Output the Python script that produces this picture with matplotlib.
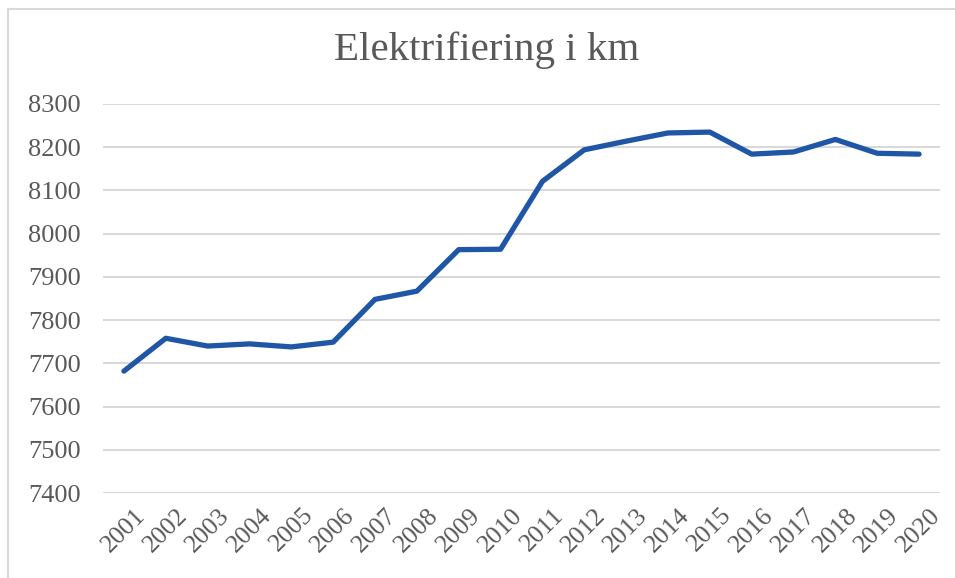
import matplotlib.pyplot as plt
from matplotlib.lines import Line2D

# data
years = [str(y) for y in range(2001, 2021)]
km = [7682, 7758, 7740, 7745, 7738, 7749, 7848, 7867, 7963, 7964,
      8121, 8194, 8214, 8233, 8235, 8184, 8189, 8218, 8186, 8184]
yticks = [7400, 7500, 7600, 7700, 7800, 7900, 8000, 8100, 8200, 8300]

W, H = 955, 578
fig = plt.figure(figsize=(W / 100, H / 100), dpi=100)
plt.rcParams['font.family'] = ['Liberation Serif', 'DejaVu Serif']

text_col = '#595959'
grid_col = '#d9d9d9'

# plot area in pixels: x 103..940, y 104..493
ax = fig.add_axes([103 / W, 1 - 493 / H, (940 - 103) / W, (493 - 104) / H])

x = list(range(len(years)))
ax.plot(x, km, color='#1f56a6', linewidth=3.8, solid_capstyle='round',
        solid_joinstyle='round', zorder=3)

ax.set_xlim(-0.5, len(years) - 0.5)
ax.set_ylim(7400, 8300)
ax.set_yticks(yticks)
ax.set_yticklabels([str(v) for v in yticks], fontsize=19, color=text_col)
ax.set_xticks(x)
ax.set_xticklabels(years, rotation=45, ha='center', va='top',
                   fontsize=18.5, color=text_col)

ax.grid(axis='y', color=grid_col, linewidth=1.5)
ax.set_axisbelow(True)
for s in ax.spines.values():
    s.set_visible(False)
ax.tick_params(axis='both', length=0)
ax.tick_params(axis='y', pad=16)
ax.tick_params(axis='x', pad=8)

fig.text(487 / W, 1 - 50 / H, 'Elektrifiering i km', ha='center', va='center',
         fontsize=29.5, color=text_col)

# light border of the chart frame (top and left edge visible)
fig.add_artist(Line2D([7.5 / W, 1], [1 - 8.5 / H, 1 - 8.5 / H],
                      transform=fig.transFigure, color=grid_col, linewidth=1.5))
fig.add_artist(Line2D([7.5 / W, 7.5 / W], [0, 1 - 8.5 / H],
                      transform=fig.transFigure, color=grid_col, linewidth=1.5))

fig.savefig('out.png', dpi=100)
